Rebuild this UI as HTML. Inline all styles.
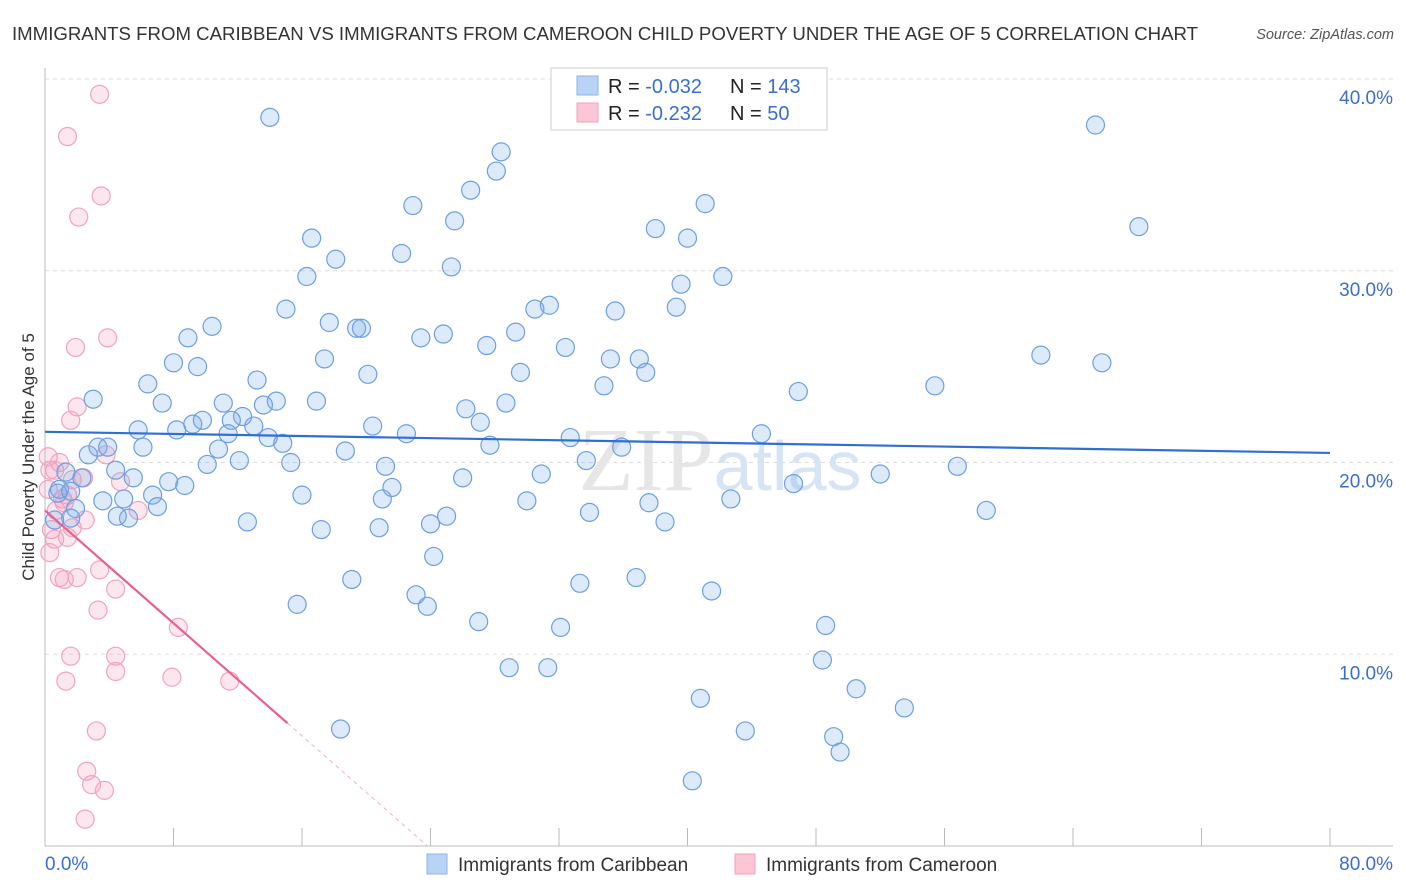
<!DOCTYPE html>
<html><head><meta charset="utf-8">
<style>
body{margin:0;background:#fff;font-family:"Liberation Sans",sans-serif;}
svg{display:block}
</style></head>
<body>
<svg id="chart" width="1406" height="892" viewBox="0 0 1406 892">
<text x="12" y="40" font-size="18" fill="#333" textLength="1186" lengthAdjust="spacingAndGlyphs">IMMIGRANTS FROM CARIBBEAN VS IMMIGRANTS FROM CAMEROON CHILD POVERTY UNDER THE AGE OF 5 CORRELATION CHART</text>
<text x="1394" y="39" font-size="14.5" fill="#555" font-style="italic" text-anchor="end">Source: ZipAtlas.com</text>
<text x="34" y="457" font-size="17" fill="#333" text-anchor="middle" transform="rotate(-90 34 457)">Child Poverty Under the Age of 5</text>
<g id="grid"></g>
<g id="axes"></g>
<text x="720" y="490" font-size="90" fill="#e6e6e6" text-anchor="middle" font-family="Liberation Serif,serif">ZIP<tspan fill="#d6e4f5" font-family="Liberation Sans,sans-serif" font-size="70">atlas</tspan></text>
<g id="pts"></g>
<g id="lines"></g>
<g>
<rect x="551" y="68" width="276" height="62" fill="#fff" stroke="#ddd" stroke-width="1.5"/>
<rect x="577" y="76" width="21" height="19" fill="#b8d3f5" stroke="#8ab4ea"/>
<rect x="577" y="103" width="21" height="19" fill="#fcc6d6" stroke="#f2a3bc"/>
<text x="608" y="93" font-size="20" fill="#222">R = <tspan fill="#3a6fd0">-0.032</tspan></text>
<text x="730" y="93" font-size="20" fill="#222">N = <tspan fill="#3a6fd0">143</tspan></text>
<text x="608" y="120" font-size="20" fill="#222">R = <tspan fill="#3a6fd0"> -0.232</tspan></text>
<text x="730" y="120" font-size="20" fill="#222">N = <tspan fill="#3a6fd0"> 50</tspan></text>
</g>
<g>
<rect x="427" y="854" width="20" height="20" fill="#b8d3f5" stroke="#8ab4ea"/>
<text x="458" y="871" font-size="19" fill="#333">Immigrants from Caribbean</text>
<rect x="735" y="854" width="20" height="20" fill="#fcc6d6" stroke="#f2a3bc"/>
<text x="766" y="871" font-size="19" fill="#333">Immigrants from Cameroon</text>
</g>
</svg>
<script>
const xTicks=[0,8,16,24,32,40,48,56,64,72,80];
const yTicks=[10,20,30,40];
const yTickLabels=["10.0%","20.0%","30.0%","40.0%"];
const xEndLabels=["0.0%","80.0%"];
const caribX=[14.0,28.4,28.1,65.4,68.1,22.9,41.1,25.5,26.5,38.0,40.0,16.6,18.1,22.2,25.3,16.3,42.2,39.6,15.0,31.4,30.5,35.5,39.3,10.4,17.7,19.4,19.7,24.8,23.4,29.3,27.5,32.4,8.9,8.0,9.5,17.4,35.2,37.0,37.4,62.0,65.8,20.1,29.6,13.2,34.8,55.4,46.9,6.4,3.0,7.3,11.1,14.4,16.9,13.6,26.2,28.7,12.3,9.2,9.8,11.6,20.4,27.1,5.8,8.2,13.0,11.4,13.9,22.5,32.7,44.6,2.7,3.3,3.9,6.1,14.8,18.7,27.7,10.8,35.9,10.1,12.1,15.3,21.2,33.7,56.8,4.4,5.5,2.3,1.3,7.7,8.7,21.6,26.0,30.9,52.0,46.6,6.7,4.9,3.6,7.0,16.0,21.0,30.0,42.7,37.6,58.6,33.9,25.0,4.5,5.2,12.6,17.2,20.8,24.0,38.6,24.2,19.1,33.3,36.8,15.7,23.1,41.5,23.8,27.0,32.1,48.6,28.9,31.3,48.4,50.5,40.8,53.5,18.4,43.6,49.1,49.5,40.3,0.9,0.8,1.6,1.9,0.6,1.6];
const caribY=[38.0,36.2,35.2,37.6,32.3,33.4,33.5,32.6,34.2,32.2,31.7,31.7,30.6,30.9,30.2,29.7,29.7,29.3,28.0,28.2,28.0,27.9,28.1,27.1,27.3,27.0,27.0,26.7,26.5,26.8,26.1,26.0,26.5,25.2,25.0,25.4,25.4,25.4,24.7,25.6,25.2,24.6,24.7,24.3,24.0,24.0,23.7,24.1,23.3,23.1,23.1,23.2,23.2,23.0,22.8,23.1,22.4,22.0,22.2,22.2,21.9,22.1,21.7,21.7,21.9,21.5,21.3,21.5,21.3,21.5,20.4,20.8,20.8,20.8,21.0,20.6,20.9,20.7,20.8,19.9,20.1,20.0,19.8,20.1,19.8,19.6,19.2,19.2,19.5,19.0,18.8,18.7,19.2,19.4,19.4,18.9,18.3,18.1,18.0,17.7,18.3,18.1,18.0,18.1,17.9,17.5,17.4,17.2,17.2,17.1,16.9,16.5,16.6,16.8,16.9,15.1,13.9,13.7,14.0,12.6,13.1,13.3,12.5,11.7,11.4,11.5,9.3,9.3,9.7,8.2,7.7,7.2,6.1,6.0,5.7,4.9,3.4,18.6,18.4,18.5,17.6,17.0,17.1];
const camX=[3.4,1.4,3.5,2.1,1.9,3.9,2.0,1.6,0.2,0.9,0.6,0.2,1.7,1.4,1.2,2.4,3.8,4.7,5.8,2.5,1.7,0.4,0.6,1.4,0.3,0.9,1.2,2.0,3.4,4.4,3.3,8.3,1.6,4.4,4.4,7.9,11.5,1.3,3.2,2.6,2.9,3.7,2.5,0.7,1.1,0.3];
const camY=[39.2,37.0,33.9,32.8,26.0,26.5,22.9,22.2,20.3,20.0,19.6,18.6,19.1,18.3,17.9,19.2,20.4,19.0,17.5,17.0,16.6,16.5,16.0,16.1,15.3,14.0,13.9,14.0,14.4,13.4,12.3,11.4,9.9,9.9,9.1,8.8,8.6,8.6,6.0,3.9,3.2,2.9,1.4,17.5,18.1,19.6];
const caribTrend=[21.6,20.5];
const camTrend=[17.5,-0.735];

const NS="http://www.w3.org/2000/svg";
const X0=45,X1=1330,Y0=846,Y40=79;
const sx=v=>X0+(X1-X0)*v/80;
const sy=v=>Y0-(Y0-Y40)*v/40;
function mk(tag,attrs,parent){const e=document.createElementNS(NS,tag);for(const k in attrs)e.setAttribute(k,attrs[k]);parent.appendChild(e);return e;}
const grid=document.getElementById('grid'),axes=document.getElementById('axes'),pts=document.getElementById('pts'),lines=document.getElementById('lines');
yTicks.forEach((t,i)=>{
  const l=mk('line',{x1:X0,x2:1393,y1:sy(t),y2:sy(t),stroke:'#ddd','stroke-dasharray':'4,4'},grid);
  
  
  const tx=mk('text',{x:1393,y:sy(t)+25,'font-size':19,fill:'#3a6fd0','text-anchor':'end'},grid);
  tx.textContent=yTickLabels[i];
  
  
});
const ya=mk('line',{x1:X0,x2:X0,y1:68,y2:Y0,stroke:'#bbb'},axes);


const xa=mk('line',{x1:X0,x2:1393,y1:Y0,y2:Y0,stroke:'#bbb'},axes);


xTicks.forEach(t=>{
  const l=mk('line',{x1:sx(t),x2:sx(t),y1:Y0,y2:Y0-18,stroke:'#bbb'},axes);
  
  
});
const xl0=mk('text',{x:45,y:870,'font-size':19,fill:'#3a6fd0'},axes);xl0.textContent=xEndLabels[0];


const xl1=mk('text',{x:1393,y:870,'font-size':19,fill:'#3a6fd0','text-anchor':'end'},axes);xl1.textContent=xEndLabels[1];


camX.forEach((x,i)=>{
  const c=mk('circle',{cx:sx(x),cy:sy(camY[i]),r:9,fill:'rgba(245,160,190,0.25)',stroke:'#f2a3bc','stroke-width':1.2},pts);
  
  
});
caribX.forEach((x,i)=>{
  const c=mk('circle',{cx:sx(x),cy:sy(caribY[i]),r:9,fill:'rgba(120,170,235,0.25)',stroke:'#6c9fe2','stroke-width':1.2},pts);
  
  
});
const bl=mk('line',{x1:sx(0),y1:sy(caribTrend[0]),x2:sx(80),y2:sy(caribTrend[1]),stroke:'#2f6fd2','stroke-width':2.2},lines);


const xEndSolid=15.1, xZero=-camTrend[0]/camTrend[1];
const pl=mk('line',{x1:sx(0),y1:sy(camTrend[0]),x2:sx(xEndSolid),y2:sy(camTrend[0]+camTrend[1]*xEndSolid),stroke:'#e8628f','stroke-width':2.2},lines);


const pd=mk('line',{x1:sx(xEndSolid),y1:sy(camTrend[0]+camTrend[1]*xEndSolid),x2:sx(xZero),y2:sy(0),stroke:'#f0b0c5','stroke-width':1,'stroke-dasharray':'4,4'},lines);


</script>
</body></html>
